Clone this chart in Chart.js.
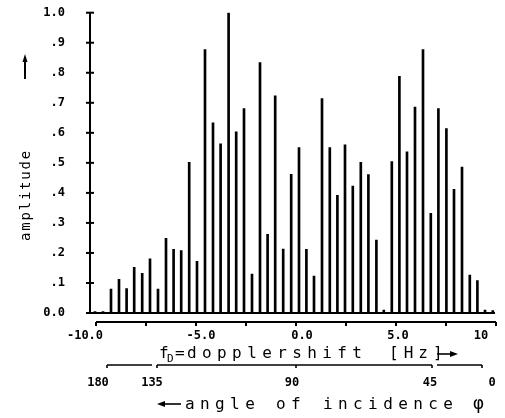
<!DOCTYPE html>
<html>
<head>
<meta charset="utf-8">
<script src="https://cdn.jsdelivr.net/npm/chart.js@4.4.1/dist/chart.umd.min.js"></script>
<style>
  html, body { margin: 0; padding: 0; background: #fff; }
  #wrap { width: 505px; height: 418px; }
</style>
</head>
<body>
<div id="wrap"><canvas id="c" width="505" height="418"></canvas></div>
<script>
// Doppler shift of each spectral line [Hz]
const freqs = [
  -10.05, -9.65, -9.25, -8.85, -8.47, -8.09, -7.69, -7.30, -6.90, -6.50,
  -6.12, -5.74, -5.34, -4.95, -4.55, -4.15, -3.77, -3.37, -2.99, -2.60,
  -2.20, -1.80, -1.42, -1.04, -0.64, -0.24, 0.15, 0.52, 0.90, 1.30,
  1.69, 2.07, 2.45, 2.84, 3.24, 3.62, 4.02, 4.39, 4.79, 5.17,
  5.55, 5.95, 6.35, 6.74, 7.12, 7.52, 7.90, 8.30, 8.69, 9.07,
  9.45, 9.84
];
// amplitude of each line
const amplitudes = [
  0.005, 0.005, 0.08, 0.112, 0.081, 0.152, 0.132, 0.18, 0.08, 0.249,
  0.212, 0.208, 0.502, 0.172, 0.877, 0.633, 0.563, 1.0, 0.603, 0.681,
  0.13, 0.834, 0.262, 0.723, 0.213, 0.462, 0.551, 0.212, 0.123, 0.714,
  0.551, 0.392, 0.56, 0.423, 0.502, 0.461, 0.243, 0.01, 0.504, 0.788,
  0.537, 0.686, 0.877, 0.332, 0.681, 0.614, 0.412, 0.486, 0.126, 0.108,
  0.01, 0.008
];
// doppler axis
const hzTickMarks = [-10, -7.5, -5, -2.5, 0, 2.5, 5, 7.5, 10];
const hzLabelPos = [-10.55, -4.75, 0.3, 5.1, 9.25];   // where the printed labels sit
const hzLabels = ['-10.0', '-5.0', '0.0', '5.0', '10'];
// angle of incidence axis (labels placed at their doppler positions)
const angleLabelHz = [-9.9, -7.2, -0.2, 6.7, 9.8];
const angleLabels = ['180', '135', '90', '45', '0'];
const angleSegments = [[-9.45, -7.2], [-6.95, 6.8], [7.05, 9.3]];
const angleTickMarksHz = [-9.45, -6.95, 0, 6.8, 9.3];
// amplitude axis
const ampTicks = [0, 0.1, 0.2, 0.3, 0.4, 0.5, 0.6, 0.7, 0.8, 0.9, 1.0];

const tickFont = { family: 'DejaVu Sans Mono', size: 12, weight: 'bold' };

function line(ctx, x1, y1, x2, y2) {
  ctx.beginPath(); ctx.moveTo(x1, y1); ctx.lineTo(x2, y2); ctx.stroke();
}

const framePlugin = {
  id: 'frame',
  afterDraw(chart) {
    const ctx = chart.ctx;
    const x = chart.scales.x, y = chart.scales.y;
    const left = chart.chartArea.left;
    const y0 = y.getPixelForValue(0);
    ctx.save();
    ctx.strokeStyle = '#000';
    ctx.fillStyle = '#000';
    ctx.lineWidth = 2;
    ctx.lineCap = 'butt';
    // amplitude axis
    line(ctx, left, y.getPixelForValue(1), left, y0);
    ampTicks.forEach(v => {
      const py = y.getPixelForValue(v);
      line(ctx, left - 4, py, left + 4, py);
    });
    // baseline
    line(ctx, left, y0, x.getPixelForValue(9.95), y0);
    // doppler axis line
    const ya = y0 + 9;
    line(ctx, x.getPixelForValue(-10), ya, x.getPixelForValue(10), ya);
    hzTickMarks.forEach(v => {
      const px = x.getPixelForValue(v);
      line(ctx, px, ya, px, ya + 4);
    });
    // angle axis segments
    const yb = y0 + 52;
    ctx.lineWidth = 1.6;
    angleSegments.forEach(s => line(ctx, x.getPixelForValue(s[0]), yb, x.getPixelForValue(s[1]), yb));
    angleTickMarksHz.forEach(v => {
      const px = x.getPixelForValue(v);
      line(ctx, px, yb, px, yb + 3);
    });

    // titles
    const spaced = (txt, px, py, size, spacing) => {
      ctx.font = size + 'px "DejaVu Sans Mono"';
      ctx.letterSpacing = spacing + 'px';
      ctx.fillText(txt, px, py);
      ctx.letterSpacing = '0px';
    };
    ctx.textBaseline = 'alphabetic';
    ctx.textAlign = 'left';
    // f_D = dopplershift [Hz] ->
    spaced('f', 159, 358, 16, 0);
    spaced('D', 167, 362, 11, 0);
    spaced('=', 175, 358, 16, 0);
    spaced('dopplershift', 187, 358, 16, 5.4);
    spaced('[Hz]', 389, 358, 16, 5.0);
    ctx.lineWidth = 1.6;
    line(ctx, 437, 354, 452, 354);
    ctx.beginPath(); ctx.moveTo(458, 354); ctx.lineTo(450, 351); ctx.lineTo(450, 357); ctx.closePath(); ctx.fill();
    // <- angle of incidence phi
    line(ctx, 163, 404, 181, 404);
    ctx.beginPath(); ctx.moveTo(157, 404); ctx.lineTo(165, 401); ctx.lineTo(165, 407); ctx.closePath(); ctx.fill();
    spaced('angle', 185, 409, 16, 5.4);
    spaced('of', 276, 409, 16, 5.4);
    spaced('incidence', 323, 409, 16, 5.4);
    spaced('\u03c6', 473, 409, 18, 0);
    // amplitude (rotated) with arrow
    ctx.save();
    ctx.translate(26, 195);
    ctx.rotate(-Math.PI / 2);
    ctx.textAlign = 'center';
    ctx.textBaseline = 'middle';
    spaced('amplitude', 0, 0, 14, 1.8);
    ctx.restore();
    ctx.lineWidth = 2;
    line(ctx, 25, 79, 25, 60);
    ctx.beginPath(); ctx.moveTo(25, 54); ctx.lineTo(22.5, 62); ctx.lineTo(27.5, 62); ctx.closePath(); ctx.fill();
    ctx.restore();
  }
};

const fixBottom = h => s => { s.height = h; s.paddingLeft = 0; s.paddingRight = 0; };

new Chart(document.getElementById('c'), {
  type: 'bar',
  data: {
    datasets: [{
      data: freqs.map((f, i) => ({ x: f, y: amplitudes[i] })),
      backgroundColor: '#000',
      borderWidth: 0,
      barThickness: 2
    }]
  },
  options: {
    responsive: false,
    animation: false,
    devicePixelRatio: 1,
    layout: { padding: { left: 0, right: 9, top: 12.7, bottom: 0 } },
    plugins: { legend: { display: false }, tooltip: { enabled: false }, title: { display: false } },
    scales: {
      x: {
        type: 'linear', position: 'bottom', weight: 0, offset: false,
        min: -10.3, max: 10,
        grid: { display: false, drawTicks: false, offset: false },
        border: { display: false },
        afterBuildTicks: s => { s.ticks = hzLabelPos.map(v => ({ value: v })); },
        afterFit: fixBottom(40),
        ticks: {
          color: '#000', font: tickFont, padding: 16, maxRotation: 0, autoSkip: false,
          callback: (v, i) => hzLabels[i]
        }
      },
      x2: {
        type: 'linear', position: 'bottom', weight: 1, offset: false,
        min: -10.3, max: 10,
        grid: { display: false, drawTicks: false, offset: false },
        border: { display: false },
        afterBuildTicks: s => { s.ticks = angleLabelHz.map(v => ({ value: v })); },
        afterFit: fixBottom(65),
        ticks: {
          color: '#000', font: tickFont, padding: 23, maxRotation: 0, autoSkip: false,
          callback: (v, i) => angleLabels[i]
        }
      },
      y: {
        type: 'linear', position: 'left',
        min: 0, max: 1,
        grid: { display: false, drawTicks: false },
        border: { display: false },
        afterBuildTicks: s => { s.ticks = ampTicks.map(v => ({ value: v })); },
        afterFit: s => { s.width = 90; s.paddingTop = 0; s.paddingBottom = 0; },
        ticks: {
          color: '#000', font: tickFont, padding: 25,
          callback: v => v === 0 ? '0.0' : (Math.abs(v - 1) < 1e-9 ? '1.0' : '.' + Math.round(v * 10))
        }
      }
    }
  },
  plugins: [framePlugin]
});
</script>
</body>
</html>
